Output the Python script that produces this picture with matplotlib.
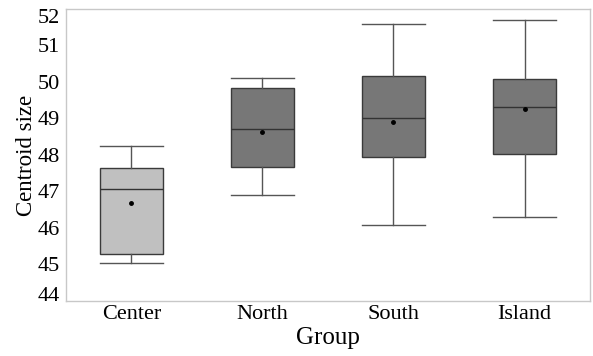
import matplotlib
matplotlib.use("Agg")
from matplotlib import pyplot as plt

groups = ["Center", "North", "South", "Island"]
whisker_low = [45.04, 46.91, 46.09, 46.29]
q1 = [45.28, 47.68, 47.94, 48.03]
medians = [47.06, 48.72, 49.02, 49.30]
q3 = [47.63, 49.84, 50.16, 50.09]
whisker_high = [48.24, 50.12, 51.58, 51.70]
means = [46.69, 48.63, 48.91, 49.25]
box_colors = ["#c0c0c0", "#777777", "#777777", "#777777"]

plt.rcParams["font.family"] = ["Liberation Serif", "DejaVu Serif"]

fig = plt.figure(figsize=(5.93, 3.56), dpi=100)
ax = fig.add_axes([0.111, 0.1545, 0.884, 0.8205])

stats = []
for i, g in enumerate(groups):
        stats.append({"label": g, "whislo": whisker_low[i], "q1": q1[i], "med": medians[i],
                      "q3": q3[i], "whishi": whisker_high[i], "mean": means[i], "fliers": []})

bp = ax.bxp(stats, positions=range(len(groups)), widths=0.48, patch_artist=True,
            showmeans=True, showfliers=False,
            boxprops=dict(edgecolor="#3a3a3a", linewidth=1.0),
            medianprops=dict(color="#333333", linewidth=1.0),
            whiskerprops=dict(color="#555555", linewidth=1.0),
            capprops=dict(color="#555555", linewidth=1.0),
            meanprops=dict(marker="o", markersize=2.5, markerfacecolor="black", markeredgecolor="black"),
            capwidths=0.48)
for patch, c in zip(bp["boxes"], box_colors):
        patch.set_facecolor(c)

ax.set_xlim(-0.5, 3.5)
ax.set_ylim(44, 52)
ax.set_yticks(range(44, 53))
ax.set_yticklabels([str(v) for v in range(44, 53)])
ax.tick_params(axis="both", length=0, labelsize=16, colors="black")
ax.tick_params(axis="y", pad=4)
ax.tick_params(axis="x", pad=3)
labels = ax.get_yticklabels()
labels[0].set_va("baseline")
labels[-1].set_va("top")

for s in ax.spines.values():
        s.set_color("#c8c8c8")
        s.set_linewidth(1.0)

ax.set_ylabel("Centroid size", fontsize=16.5, labelpad=1)
ax.set_xlabel("Group", fontsize=18, labelpad=2)

plt.savefig("out.png", dpi=100)
